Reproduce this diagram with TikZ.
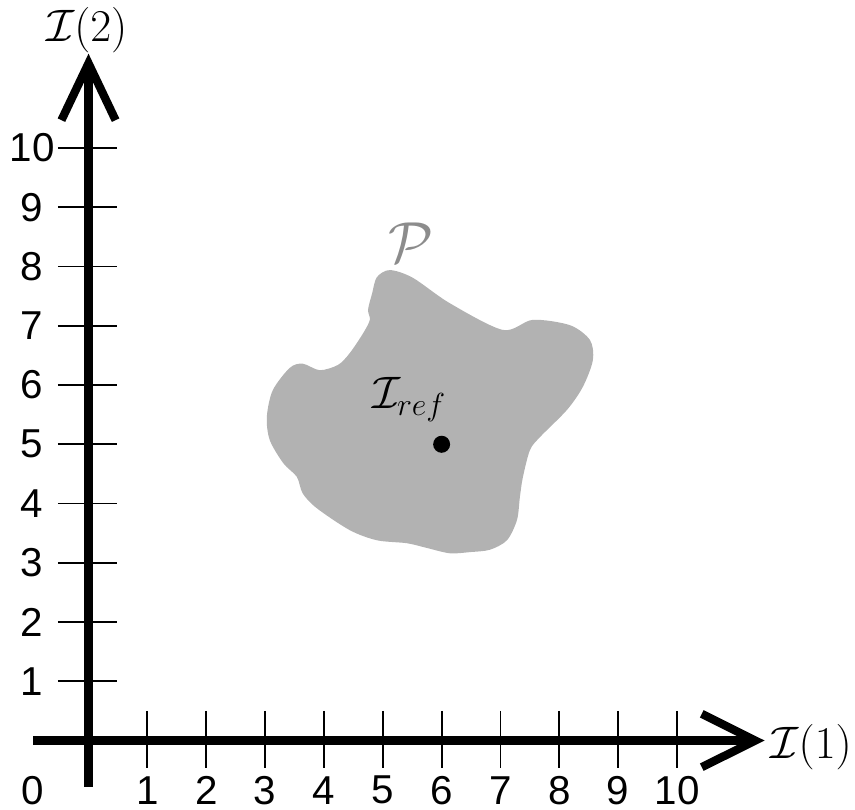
\RequirePackage{fix-cm}
\documentclass[tikz,border=0pt]{standalone}
\usepackage[no-math]{fontspec}
\usepackage{amsmath,amssymb}
\newfontfamily\numfont{Liberation Sans}
\tikzset{
    axis/.style={draw=black, line width=4pt},
    axishead/.style={draw=black, line width=4pt, line join=miter},
    tick/.style={draw=black, line width=0.9pt},
    num/.style={font=\numfont\fontsize{19.5}{22}\selectfont, inner sep=0pt},
    axlabel/.style={font=\fontsize{22}{26}\selectfont, inner sep=0pt}
}

\begin{document}
\begin{tikzpicture}[x=1cm, y=1.0068cm]
        \useasboundingbox (-1.504, -1.156) rectangle (13.024, 12.498);

        % region P
        \fill [black!30] plot [smooth cycle, tension=0.5] coordinates {
            (5.12, 7.94) (5.51, 7.81) (6.14, 7.38) (7.04, 6.93) (7.55, 7.10)
            (8.18, 7.01) (8.52, 6.76) (8.57, 6.42) (8.40, 5.97) (8.13, 5.58)
            (7.67, 5.12) (7.50, 4.90) (7.38, 4.44) (7.33, 4.11) (7.28, 3.72)
            (7.11, 3.38) (6.82, 3.22) (6.48, 3.18) (6.14, 3.16) (5.75, 3.25)
            (5.41, 3.33) (4.90, 3.38) (4.44, 3.55) (3.88, 3.92) (3.64, 4.17)
            (3.54, 4.45) (3.31, 4.68) (3.08, 5.07) (3.03, 5.46) (3.13, 5.91)
            (3.42, 6.29) (3.64, 6.36) (3.93, 6.25) (4.24, 6.34) (4.44, 6.54)
            (4.67, 6.88) (4.78, 7.10) (4.75, 7.27) (4.82, 7.55) (4.90, 7.82)};
        \node [font=\fontsize{28}{32}\selectfont, text=black!45, inner sep=0pt] (P) at (5.48, 8.41) {$\mathcal{P}$};
        \fill [black] (6, 5) circle (0.144) coordinate (ref);
        \node [axlabel] (Iref) at (5.45, 5.75) {$\mathcal{I}_{ref}$};

        % axes
        \coordinate (origin) at (0, 0);
        \coordinate (ybottom) at (0, -0.78);
        \coordinate (ytop) at (0, 11.28);
        \coordinate (xleft) at (-0.94, 0);
        \coordinate (xright) at (11.19, 0);
        \draw [axis] (ybottom) -- (ytop);
        \draw [axis] (xleft) -- (xright);
        \draw [axishead] (-0.46, 10.47) -- (0, 11.43) -- (0.46, 10.47);
        \draw [axishead] (10.42, 0.45) -- (11.33, 0) -- (10.42, -0.45);
        \node [axlabel] (I2) at (-0.03, 11.99) {$\mathcal{I}(2)$};
        \node [axlabel] (I1) at (12.28, -0.11) {$\mathcal{I}(1)$};
        \node [num] (zero) at (-0.95, -0.84) {0};

        % ticks on I(1)
        \draw [tick] (1, 0.5) -- (1, -0.46); \node [num] (x1) at (1, -0.84) {1};
        \draw [tick] (2, 0.5) -- (2, -0.46); \node [num] (x2) at (2, -0.84) {2};
        \draw [tick] (3, 0.5) -- (3, -0.46); \node [num] (x3) at (3, -0.84) {3};
        \draw [tick] (4, 0.5) -- (4, -0.46); \node [num] (x4) at (4, -0.84) {4};
        \draw [tick] (5, 0.5) -- (5, -0.46); \node [num] (x5) at (5, -0.84) {5};
        \draw [tick] (6, 0.5) -- (6, -0.46); \node [num] (x6) at (6, -0.84) {6};
        \draw [tick] (7, 0.5) -- (7, -0.46); \node [num] (x7) at (7, -0.84) {7};
        \draw [tick] (8, 0.5) -- (8, -0.46); \node [num] (x8) at (8, -0.84) {8};
        \draw [tick] (9, 0.5) -- (9, -0.46); \node [num] (x9) at (9, -0.84) {9};
        \draw [tick] (10, 0.5) -- (10, -0.46); \node [num] (x10) at (10, -0.84) {10};

        % ticks on I(2)
        \draw [tick] (-0.52, 1) -- (0.48, 1); \node [num] (y1) at (-0.96, 1) {1};
        \draw [tick] (-0.52, 2) -- (0.48, 2); \node [num] (y2) at (-0.96, 2) {2};
        \draw [tick] (-0.52, 3) -- (0.48, 3); \node [num] (y3) at (-0.96, 3) {3};
        \draw [tick] (-0.52, 4) -- (0.48, 4); \node [num] (y4) at (-0.96, 4) {4};
        \draw [tick] (-0.52, 5) -- (0.48, 5); \node [num] (y5) at (-0.96, 5) {5};
        \draw [tick] (-0.52, 6) -- (0.48, 6); \node [num] (y6) at (-0.96, 6) {6};
        \draw [tick] (-0.52, 7) -- (0.48, 7); \node [num] (y7) at (-0.96, 7) {7};
        \draw [tick] (-0.52, 8) -- (0.48, 8); \node [num] (y8) at (-0.96, 8) {8};
        \draw [tick] (-0.52, 9) -- (0.48, 9); \node [num] (y9) at (-0.96, 9) {9};
        \draw [tick] (-0.52, 10) -- (0.48, 10); \node [num] (y10) at (-0.96, 10) {10};
\end{tikzpicture}
\end{document}
